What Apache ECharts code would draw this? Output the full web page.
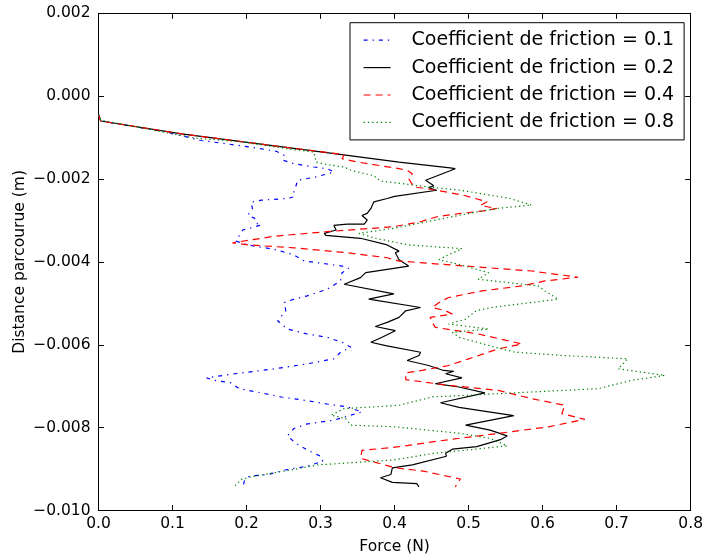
<!DOCTYPE html>
<html>
<head>
<meta charset="utf-8">
<script src="https://cdn.jsdelivr.net/npm/echarts@6/dist/echarts.min.js"></script>
<style>html,body{margin:0;padding:0;background:#fff;}#c{width:706px;height:560px;}</style>
</head>
<body>
<div id="c"></div>
<script>
var seriesNames = ['Coefficient de friction = 0.1','Coefficient de friction = 0.2','Coefficient de friction = 0.4','Coefficient de friction = 0.8'];
var xTicks = [0.0,0.1,0.2,0.3,0.4,0.5,0.6,0.7,0.8];
var yTicks = [-0.010,-0.008,-0.006,-0.004,-0.002,0.000,0.002];
var xTitle = 'Force (N)';
var yTitle = 'Distance parcourue (m)';

// [force (N), distance (m)]
var mu01 = [[0.000,-0.00045],[0.003,-0.00060],[0.090,-0.00086],[0.139,-0.00107],[0.206,-0.00123],[0.240,-0.00133],[0.251,-0.00143],[0.250,-0.00155],[0.264,-0.00163],[0.291,-0.00171],[0.309,-0.00175],[0.318,-0.00183],[0.294,-0.00195],[0.269,-0.00203],[0.267,-0.00215],[0.264,-0.00231],[0.264,-0.00243],[0.255,-0.00247],[0.220,-0.00251],[0.206,-0.00256],[0.208,-0.00271],[0.202,-0.00287],[0.211,-0.00295],[0.213,-0.00307],[0.220,-0.00311],[0.195,-0.00323],[0.188,-0.00343],[0.186,-0.00350],[0.202,-0.00359],[0.238,-0.00370],[0.264,-0.00383],[0.278,-0.00398],[0.309,-0.00405],[0.329,-0.00410],[0.338,-0.00416],[0.329,-0.00426],[0.327,-0.00446],[0.309,-0.00466],[0.282,-0.00482],[0.264,-0.00490],[0.251,-0.00498],[0.253,-0.00518],[0.242,-0.00542],[0.255,-0.00562],[0.282,-0.00574],[0.309,-0.00582],[0.329,-0.00594],[0.341,-0.00606],[0.327,-0.00618],[0.318,-0.00634],[0.282,-0.00646],[0.238,-0.00658],[0.184,-0.00670],[0.146,-0.00680],[0.157,-0.00686],[0.179,-0.00692],[0.190,-0.00706],[0.220,-0.00716],[0.247,-0.00726],[0.282,-0.00735],[0.309,-0.00743],[0.336,-0.00750],[0.356,-0.00762],[0.318,-0.00782],[0.282,-0.00791],[0.264,-0.00802],[0.255,-0.00820],[0.267,-0.00838],[0.282,-0.00854],[0.300,-0.00869],[0.303,-0.00881],[0.282,-0.00893],[0.255,-0.00901],[0.229,-0.00913],[0.204,-0.00917],[0.197,-0.00929],[0.195,-0.00943]];

var mu02 = [[0.000,-0.00045],[0.003,-0.00060],[0.112,-0.00091],[0.264,-0.00126],[0.406,-0.00159],[0.475,-0.00173],[0.482,-0.00175],[0.475,-0.00180],[0.442,-0.00203],[0.453,-0.00216],[0.446,-0.00221],[0.457,-0.00227],[0.400,-0.00242],[0.390,-0.00247],[0.372,-0.00255],[0.368,-0.00271],[0.363,-0.00283],[0.356,-0.00288],[0.363,-0.00299],[0.359,-0.00309],[0.336,-0.00309],[0.318,-0.00312],[0.321,-0.00323],[0.305,-0.00331],[0.307,-0.00336],[0.354,-0.00343],[0.390,-0.00359],[0.406,-0.00374],[0.401,-0.00378],[0.406,-0.00395],[0.419,-0.00410],[0.361,-0.00426],[0.354,-0.00438],[0.332,-0.00454],[0.399,-0.00477],[0.365,-0.00490],[0.435,-0.00510],[0.415,-0.00518],[0.406,-0.00534],[0.390,-0.00546],[0.374,-0.00556],[0.401,-0.00566],[0.383,-0.00582],[0.368,-0.00594],[0.388,-0.00602],[0.435,-0.00618],[0.433,-0.00626],[0.417,-0.00638],[0.446,-0.00650],[0.466,-0.00662],[0.480,-0.00664],[0.469,-0.00670],[0.491,-0.00680],[0.455,-0.00694],[0.487,-0.00702],[0.522,-0.00716],[0.462,-0.00740],[0.487,-0.00751],[0.561,-0.00771],[0.496,-0.00794],[0.529,-0.00806],[0.552,-0.00820],[0.543,-0.00829],[0.511,-0.00846],[0.478,-0.00852],[0.469,-0.00862],[0.470,-0.00869],[0.424,-0.00890],[0.397,-0.00897],[0.395,-0.00913],[0.381,-0.00921],[0.397,-0.00932],[0.430,-0.00935],[0.433,-0.00943]];

var mu04 = [[0.000,-0.00045],[0.003,-0.00060],[0.112,-0.00091],[0.264,-0.00126],[0.305,-0.00135],[0.332,-0.00141],[0.329,-0.00151],[0.350,-0.00159],[0.406,-0.00175],[0.417,-0.00179],[0.424,-0.00187],[0.419,-0.00199],[0.426,-0.00219],[0.457,-0.00227],[0.493,-0.00239],[0.525,-0.00255],[0.516,-0.00264],[0.538,-0.00271],[0.520,-0.00277],[0.489,-0.00283],[0.457,-0.00291],[0.435,-0.00303],[0.399,-0.00315],[0.309,-0.00327],[0.238,-0.00338],[0.181,-0.00354],[0.202,-0.00359],[0.264,-0.00366],[0.336,-0.00378],[0.390,-0.00390],[0.406,-0.00398],[0.451,-0.00404],[0.518,-0.00413],[0.585,-0.00422],[0.648,-0.00437],[0.603,-0.00446],[0.572,-0.00458],[0.518,-0.00470],[0.473,-0.00486],[0.460,-0.00498],[0.451,-0.00510],[0.469,-0.00518],[0.478,-0.00526],[0.448,-0.00534],[0.451,-0.00546],[0.455,-0.00558],[0.513,-0.00574],[0.572,-0.00598],[0.540,-0.00610],[0.520,-0.00622],[0.500,-0.00634],[0.473,-0.00650],[0.437,-0.00662],[0.415,-0.00668],[0.415,-0.00684],[0.473,-0.00698],[0.540,-0.00710],[0.585,-0.00730],[0.630,-0.00746],[0.626,-0.00766],[0.657,-0.00780],[0.608,-0.00798],[0.540,-0.00814],[0.473,-0.00829],[0.406,-0.00846],[0.356,-0.00855],[0.354,-0.00874],[0.368,-0.00881],[0.401,-0.00897],[0.439,-0.00905],[0.489,-0.00924],[0.482,-0.00943]];

var mu08 = [[0.000,-0.00045],[0.003,-0.00058],[0.130,-0.00101],[0.197,-0.00111],[0.255,-0.00127],[0.291,-0.00135],[0.294,-0.00159],[0.309,-0.00165],[0.332,-0.00171],[0.341,-0.00179],[0.372,-0.00192],[0.381,-0.00205],[0.406,-0.00210],[0.444,-0.00219],[0.489,-0.00227],[0.556,-0.00247],[0.585,-0.00263],[0.538,-0.00271],[0.489,-0.00287],[0.444,-0.00303],[0.399,-0.00319],[0.352,-0.00331],[0.374,-0.00343],[0.419,-0.00359],[0.491,-0.00368],[0.469,-0.00386],[0.460,-0.00395],[0.487,-0.00406],[0.527,-0.00426],[0.513,-0.00442],[0.594,-0.00458],[0.603,-0.00470],[0.621,-0.00490],[0.531,-0.00510],[0.510,-0.00518],[0.496,-0.00538],[0.473,-0.00550],[0.527,-0.00562],[0.478,-0.00570],[0.487,-0.00582],[0.536,-0.00606],[0.563,-0.00618],[0.630,-0.00626],[0.715,-0.00634],[0.702,-0.00658],[0.765,-0.00674],[0.720,-0.00686],[0.675,-0.00706],[0.585,-0.00714],[0.496,-0.00722],[0.451,-0.00726],[0.406,-0.00746],[0.332,-0.00754],[0.314,-0.00770],[0.334,-0.00778],[0.341,-0.00794],[0.401,-0.00798],[0.489,-0.00814],[0.529,-0.00826],[0.552,-0.00844],[0.498,-0.00854],[0.453,-0.00862],[0.399,-0.00878],[0.296,-0.00890],[0.264,-0.00901],[0.211,-0.00917],[0.193,-0.00925],[0.184,-0.00941]];

var FONT = '"DejaVu Sans", sans-serif';
var seriesData = [mu01, mu02, mu04, mu08];
var colors = ['#0000ff', '#000000', '#ff0000', '#008000'];
var dashes = [[4, 5, 1.3, 5], 'solid', [7, 5], [1.3, 3]];

function yFmt(v) { return (v < 0 ? '\u2212' : '') + Math.abs(v).toFixed(3); }
function xFmt(v) { return v.toFixed(1); }

var chart = echarts.init(document.getElementById('c'), null, {renderer: 'canvas'});
var axisCommon = {
  axisLine: {show: true, onZero: false, lineStyle: {color: '#000', width: 1}},
  axisTick: {show: true, inside: true, length: 5.5, lineStyle: {color: '#000', width: 1}},
  splitLine: {show: false}
};
var option = {
  animation: false,
  backgroundColor: '#fff',
  grid: {left: 98.5, right: 13, top: 13.3, bottom: 45.7, containLabel: false},
  xAxis: [
    Object.assign({type: 'value', position: 'bottom', min: xTicks[0], max: xTicks[xTicks.length - 1], interval: 0.1,
      name: xTitle, nameLocation: 'middle', nameGap: 28.5, nameMoveOverlap: false,
      nameTextStyle: {fontFamily: FONT, fontSize: 15.5, color: '#000'},
      axisLabel: {fontFamily: FONT, fontSize: 15.5, color: '#000', margin: 5, formatter: xFmt}}, axisCommon),
    Object.assign({type: 'value', position: 'top', min: xTicks[0], max: xTicks[xTicks.length - 1], interval: 0.1,
      axisLabel: {show: false}}, axisCommon)
  ],
  yAxis: [
    Object.assign({type: 'value', position: 'left', min: yTicks[0], max: yTicks[yTicks.length - 1], interval: 0.002,
      name: yTitle, nameLocation: 'middle', nameGap: 71, nameMoveOverlap: false,
      nameTextStyle: {fontFamily: FONT, fontSize: 15.5, color: '#000'},
      axisLabel: {fontFamily: FONT, fontSize: 15.5, color: '#000', margin: 8, formatter: yFmt}}, axisCommon),
    Object.assign({type: 'value', position: 'right', min: yTicks[0], max: yTicks[yTicks.length - 1], interval: 0.002,
      axisLabel: {show: false}}, axisCommon)
  ],
  legend: {
    show: true, orient: 'vertical', left: 350, top: 22.7,
    padding: [8, 10, 8, 13],
    borderColor: '#000', borderWidth: 1, backgroundColor: '#fff',
    itemWidth: 27, itemHeight: 20, itemGap: 8.4,
    itemStyle: {opacity: 0, borderWidth: 0},
    lineStyle: {width: 1.2},
    textStyle: {fontFamily: FONT, fontSize: 19, color: '#000', padding: [0, 0, 0, 16]},
    data: seriesNames
  },
  series: seriesData.map(function (d, i) {
    return {
      name: seriesNames[i], type: 'line', data: d, xAxisIndex: 0, yAxisIndex: 0,
      symbol: 'none', showSymbol: false, smooth: false,
      color: colors[i],
      lineStyle: {color: colors[i], width: 1.2, type: dashes[i]},
      itemStyle: {color: colors[i]},
      emphasis: {disabled: true}
    };
  })
};
chart.setOption(option);
</script>
</body>
</html>
